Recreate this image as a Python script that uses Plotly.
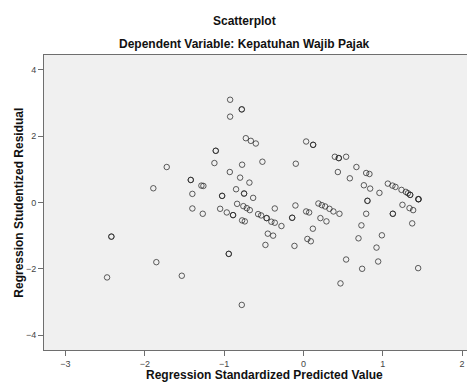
import plotly.graph_objects as go

# Regression Standardized Predicted Value (x) and Studentized Residual (y)
pred = [
    -0.924, -0.777, -0.777, -0.924, -0.726, -0.663, -0.600, -1.105, -1.105, -1.122,
    -0.773, -1.723, -0.928, -0.798, -0.681, -1.420, -1.420, -1.286, -1.261, -1.892,
    -0.849, -1.400, -0.748, -0.748, -1.025, -1.025, -0.634, -1.400, -1.269, -1.050,
    -0.966, -0.887, -0.887, -0.836, -0.757, -0.714, -0.676, -0.571, -0.773, -0.739,
    -2.421, -2.421, -1.854, -2.475, -1.533, -0.941, -0.941, -0.777,
    0.034, 0.122, 0.122, -0.517, -0.096, 0.396, 0.446, 0.446, 0.538, 0.668,
    0.434, 0.585, 0.791, 0.832, 0.762, 0.841, 0.958, 1.064, 1.122, 1.160,
    1.236, 1.291, 1.317, 1.346, 1.346, 1.450, 1.450, 1.450, 0.807, 0.807,
    1.248, 1.337, 1.383, 1.127, 1.127, 0.791, -0.361, -0.101, -0.533, -0.464,
    -0.464, -0.142, -0.142, 0.034, 0.072, 0.189, 0.232, 0.274, 0.328, 0.378,
    0.454, 0.214, 0.290, -0.404, -0.361, -0.277, -0.449, -0.382, -0.479, -0.113,
    0.119, 0.050, 0.093, 0.731, 0.694, 0.989, 0.921, 0.942, 0.740, 0.538,
    0.467, 1.371, 1.446,
]
resid = [
    3.10, 2.81, 2.81, 2.59, 1.94, 1.86, 1.78, 1.56, 1.56, 1.19,
    1.14, 1.07, 0.92, 0.75, 0.60, 0.68, 0.68, 0.51, 0.50, 0.43,
    0.40, 0.26, 0.27, 0.27, 0.20, 0.20, 0.14, -0.18, -0.34, -0.19,
    -0.30, -0.38, -0.38, -0.04, -0.11, -0.17, -0.23, -0.35, -0.54, -0.57,
    -1.03, -1.03, -1.80, -2.26, -2.21, -1.55, -1.55, -3.09,
    1.84, 1.74, 1.74, 1.23, 1.17, 1.38, 1.34, 1.34, 1.38, 1.07,
    0.92, 0.73, 0.89, 0.86, 0.52, 0.42, 0.29, 0.57, 0.51, 0.47,
    0.38, 0.32, 0.28, 0.23, 0.23, 0.10, 0.10, 0.10, 0.05, 0.05,
    -0.07, -0.17, -0.23, -0.34, -0.34, -0.34, -0.18, -0.09, -0.39, -0.47,
    -0.47, -0.46, -0.46, -0.27, -0.30, -0.03, -0.08, -0.12, -0.19, -0.27,
    -0.34, -0.47, -0.57, -0.58, -0.61, -0.71, -0.94, -1.00, -1.28, -1.31,
    -0.79, -1.10, -1.17, -0.69, -1.08, -0.99, -1.36, -1.78, -2.00, -1.72,
    -2.44, -0.63, -1.98,
]

x_ticks = [-3, -2, -1, 0, 1, 2]
y_ticks = [-4, -2, 0, 2, 4]

title_text = "Scatterplot"
subtitle_text = "Dependent Variable: Kepatuhan Wajib Pajak"
x_title = "Regression Standardized Predicted Value"
y_title = "Regression Studentized Residual"

FONT = "Liberation Sans, Arial, sans-serif"

fig = go.Figure()
fig.add_trace(go.Scatter(
    x=pred, y=resid, mode="markers",
    marker=dict(symbol="circle-open", size=5.5,
                color="rgba(35,35,35,0.72)",
                line=dict(width=1, color="rgba(35,35,35,0.72)")),
    hoverinfo="x+y", showlegend=False,
))

axis_common = dict(
    showgrid=False, zeroline=False, showline=True, mirror=True,
    linecolor="#6e6e6e", linewidth=1, automargin=False,
    ticks="outside", ticklen=5, tickcolor="#6e6e6e", tickwidth=1,
    tickfont=dict(family=FONT, size=9, color="#444444"),
)

fig.update_xaxes(range=[-3.27, 2.15], tickvals=x_ticks, **axis_common)
fig.update_yaxes(range=[-4.45, 4.45], tickvals=y_ticks, **axis_common)

# plot area (figure coords): x 36..466, y 47..342  (page has an 8px body margin)
annots = [
    dict(text=f"<b>{title_text}</b>", x=0.467, y=1.115, xref="paper", yref="paper",
         showarrow=False, font=dict(family=FONT, size=12, color="#111111"),
         xanchor="center", yanchor="middle"),
    dict(text=f"<b>{subtitle_text}</b>", x=0.467, y=1.037, xref="paper", yref="paper",
         showarrow=False, font=dict(family=FONT, size=12, color="#111111"),
         xanchor="center", yanchor="middle"),
    dict(text=f"<b>{x_title}</b>", x=0.512, y=-0.085, xref="paper", yref="paper",
         showarrow=False, font=dict(family=FONT, size=12, color="#111111"),
         xanchor="center", yanchor="middle"),
    dict(text=f"<b>{y_title}</b>", x=-0.060, y=0.5, xref="paper", yref="paper",
         showarrow=False, font=dict(family=FONT, size=12, color="#111111"),
         xanchor="center", yanchor="middle", textangle=-90),
]

fig.update_layout(
    width=466, height=374,
    margin=dict(l=36, r=0, t=47, b=32),
    paper_bgcolor="white", plot_bgcolor="#f0f0f0",
    annotations=annots,
    font=dict(family=FONT),
)

fig.write_html("out.html")
